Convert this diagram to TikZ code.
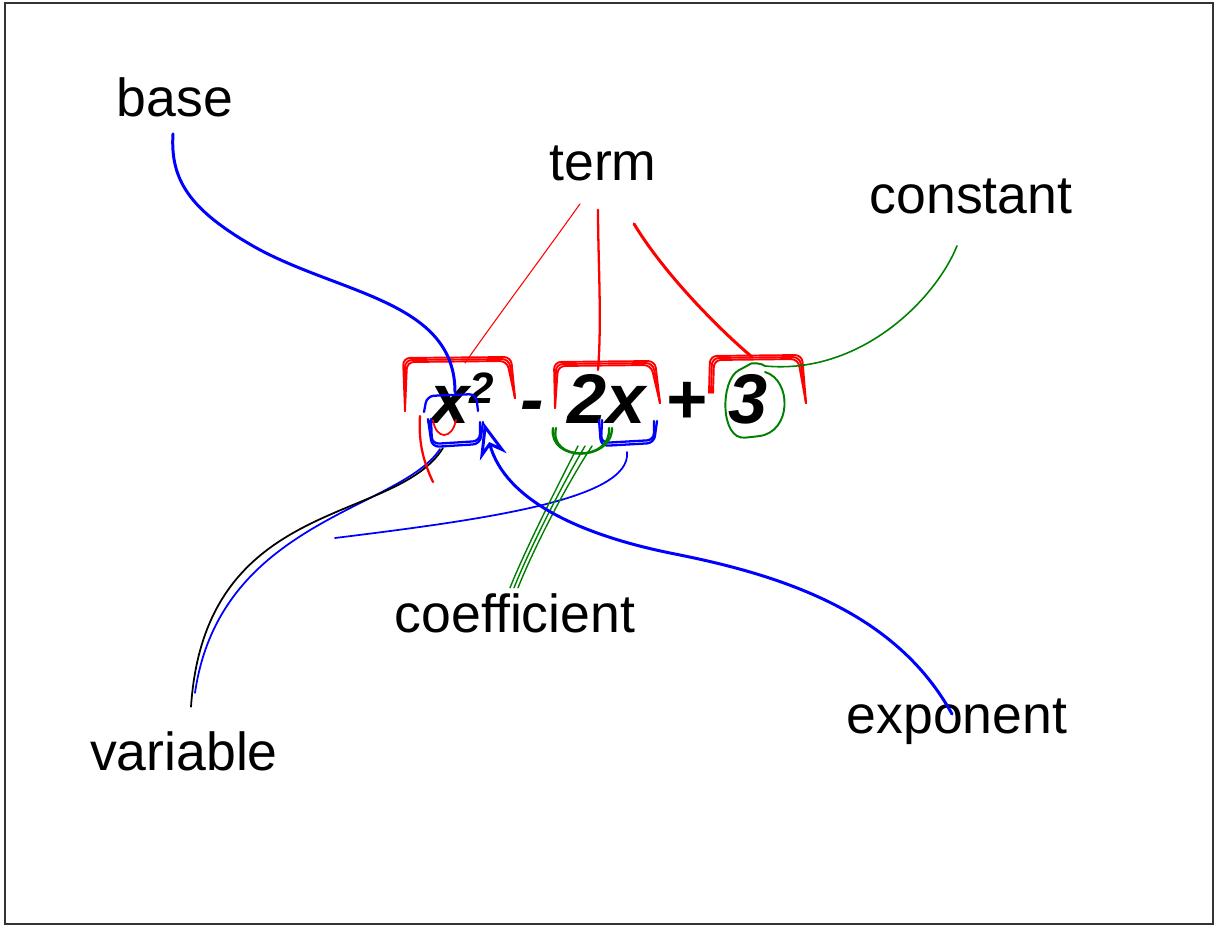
\documentclass[tikz,border=0pt]{standalone}
\usepackage{fontspec}
\setmainfont{Liberation Sans}
\usetikzlibrary{arrows.meta}

\begin{document}
\begin{tikzpicture}[
    x=0.02cm, y=-0.02cm,
    % Styles
    word/.style={
        inner sep=0pt,
        anchor=base,
        font=\fontsize{30.5}{36}\selectfont
    },
    expr/.style={
        inner sep=0pt,
        anchor=base,
        font=\fontsize{40}{48}\selectfont\bfseries\itshape
    },
    pen/.style={
        draw=#1,
        line cap=round,
        line join=round,
        rounded corners=4
    },
    pen/.default=red,
    thinpen/.style={pen=#1, line width=0.6pt},
    thickpen/.style={pen=#1, line width=1.7pt}
]

% Frame
\useasboundingbox (0,0) rectangle (1216,926);
\draw[line width=1.3pt, black!80] (5,3) rectangle (1213,924);

% Expression
\node[expr, anchor=base west] (xsq) at (430,423) {x\raisebox{11pt}{\fontsize{25}{25}\selectfont 2}};
\node[expr] (minus) at (532,423) {-};
\node[expr] (twox) at (607,423) {2x};
\node[expr] (plus) at (686,423) {+};
\node[expr] (three) at (748,423) {3};

% Labels
\node[word] (base) at (175,116) {base};
\node[word] (term) at (603,180) {term};
\node[word] (constant) at (971,213) {constant};
\node[word] (coefficient) at (515,632) {coefficient};
\node[word] (variable) at (184,770) {variable};
\node[word] (exponent) at (957,733) {exponent};

% Bracket points
\coordinate (xtop) at (455,392);
\coordinate (xbot) at (440,449);
\coordinate (sqtip) at (484,423);
\coordinate (twoxbot) at (627,452);
\coordinate (twobot) at (578,446);
\coordinate (tone) at (465,363);
\coordinate (ttwo) at (598,370);
\coordinate (tthree) at (752,357);
\coordinate (circtop) at (765,366);
\coordinate (varend) at (335,538);

% Term brackets
\foreach \d in {0,2,4} {
    \draw[pen, line width=1.1pt] (405,411) -- (403+\d,358+\d) -- (511-\d,357+\d) -- (515,398);
    \draw[pen, line width=1.1pt] (555,408) -- (554+\d,362+\d) -- (655-\d,361+\d) -- (660,403);
    \draw[pen, line width=1.1pt] (709+\d,393) -- (710+\d,356+\d) -- (802-\d,355+\d) -- (806,403);
}

% Term connectors
\draw[thinpen] ([shift={(-23,23)}]term.south) .. controls (540,260) and (495,320) .. (tone);
\draw[pen, line width=1.3pt] ([shift={(-5,29)}]term.south) .. controls (598,260) and (602,320) .. (ttwo);
\draw[thickpen] ([shift={(31,43)}]term.south) .. controls (665,275) and (720,330) .. (tthree);

% Base
\draw[thickpen=blue] ([shift={(-2,17)}]base.south) .. controls (170,180) and (190,210) .. (260,250)
    .. controls (350,295) and (455,305) .. (xtop);
\draw[pen=blue, line width=1.3pt] (424,412) -- (427,396) -- (476,394) -- (478,411);

% Variable
\foreach \d in {0,3} {
    \draw[pen=blue, line width=1.3pt] (428+\d,419) -- (432,447-\d) -- (480,444-\d) -- (483-\d,422);
}
\draw[thinpen=blue, line width=1pt] (xbot) .. controls (400,510) and (220,520) .. ([shift={(11,-38)}]variable.north);
\draw[thinpen=black, line width=1pt] ([shift={(3,-1)}]xbot) .. controls (395,525) and (205,495) .. ([shift={(7,-24)}]variable.north);
\foreach \d in {0,3} {
    \draw[pen=blue, line width=1.3pt] (599+\d,420) -- (601,446-\d) -- (654,443-\d) -- (657-\d,421);
}
\draw[thinpen=blue, line width=1pt] (twoxbot) .. controls (632,500) and (480,520) .. (varend);

% Red marks under x
\draw[pen, line width=1.3pt] (420,416) .. controls (418,445) and (425,465) .. (433,482);
\draw[thinpen, line width=1pt] (433,420) .. controls (436,440) and (452,440) .. (456,420);

% Coefficient
\foreach \d in {0,3} {
    \draw[pen=green!50!black, line width=1.3pt] (553+\d,428) .. controls (548,462) and (612,462) .. (612-\d,428);
}
\foreach \d in {0,4,8} {
    \draw[thinpen=green!50!black, line width=0.8pt] ([xshift=\d]twobot) .. controls (558+\d,485) and (525+\d,550) .. ([shift={(-5+\d,-5)}]coefficient.north);
}

% Constant
\draw[thinpen=green!50!black, line width=1.1pt] (765,372) .. controls (792,380) and (792,432) .. (752,437)
    .. controls (720,440) and (720,380) .. (745,367) .. controls (752,363) and (762,363) .. (circtop);
\draw[thinpen=green!50!black, line width=0.9pt] ([shift={(-14,32)}]constant.south) .. controls (935,300) and (860,375) .. (circtop);

% Exponent
\draw[thickpen=blue, -{Stealth[open, length=7mm, width=5.5mm]}] ([shift={(-5,16)}]exponent.north) .. controls (900,620) and (800,580) .. (680,555)
    .. controls (580,535) and (505,500) .. (sqtip);

\end{tikzpicture}
\end{document}
